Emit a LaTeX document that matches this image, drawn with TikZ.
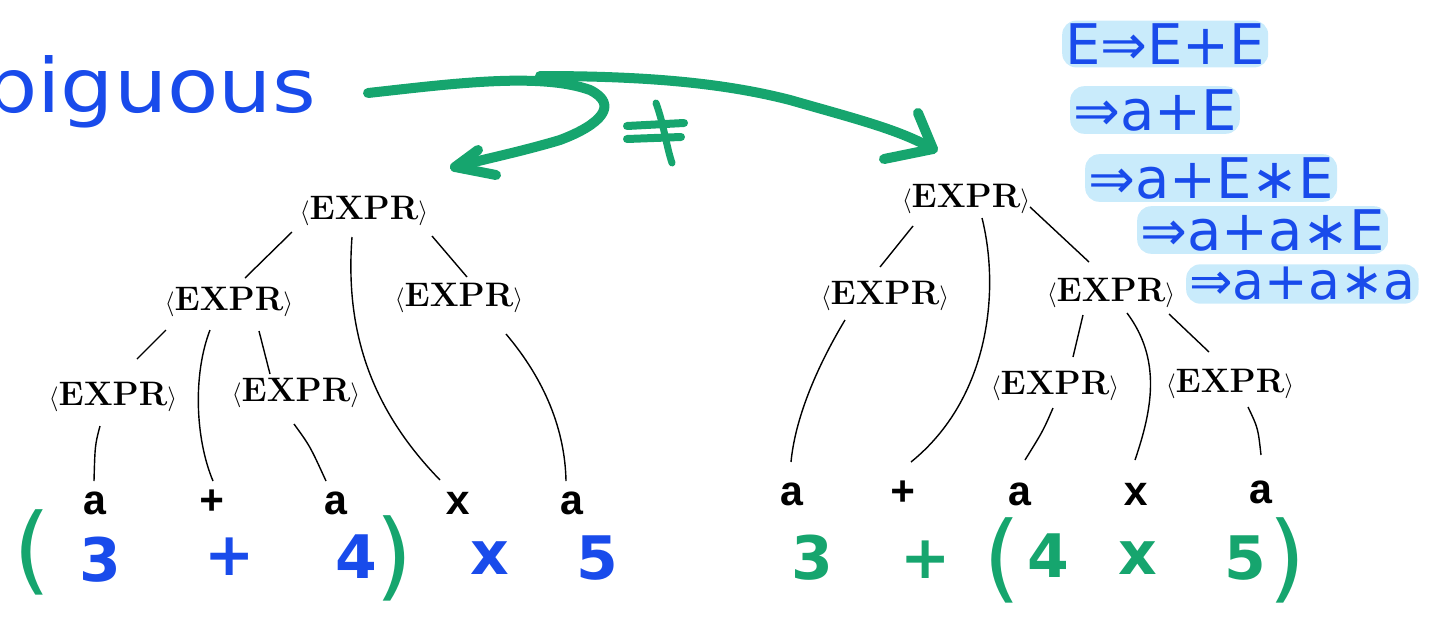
\documentclass[tikz,border=0pt]{standalone}
\usepackage{fontspec}
\newfontfamily\hand{DejaVu Sans}
\newfontfamily\leaffont{Liberation Mono}
\usetikzlibrary{calc}
\definecolor{mgreen}{RGB}{22,165,110}
\definecolor{mblue}{RGB}{25,75,235}
\definecolor{hl}{RGB}{120,205,245}
\begin{document}
\begin{tikzpicture}[x=1pt,y=-1pt,
  nt/.style={font=\bfseries\fontsize{34}{40}\selectfont, inner sep=0pt, text height=24pt, text depth=6pt},
  leaf/.style={font=\leaffont\bfseries\fontsize{42}{48}\selectfont, inner sep=0pt, text height=22pt, text depth=0pt},
  edge/.style={line width=1.4pt, black},
  pen/.style={mgreen, line width=10pt, line cap=round, line join=round},
  bl/.style={text=mblue, font=\hand\bfseries\fontsize{60}{66}\selectfont, inner sep=0pt},
  gr/.style={text=mgreen, font=\hand\bfseries\fontsize{60}{66}\selectfont, inner sep=0pt},
  paren/.style={font=\hand\fontsize{96}{100}\selectfont},
  deriv/.style={text=mblue, font=\hand\fontsize{56}{60}\selectfont, fill=hl, fill opacity=.4, text opacity=1, rounded corners=14pt, inner sep=3pt, anchor=west}
]
\useasboundingbox (0,0) rectangle (1430,619);
\clip (0,0) rectangle (1430,619);

% word
\node[text=mblue, font=\hand\fontsize{75}{80}\selectfont, anchor=base east, inner sep=0pt, xscale=1.12] (amb) at (316,112) {ambiguous};

% derivation
\node[deriv] (d1) at (1062,44) {E⇒E+E};
\node[deriv] (d2) at (1070,110) {⇒a+E};
\node[deriv] (d3) at (1085,178) {⇒a+E∗E};
\node[deriv] (d4) at (1137,230) {⇒a+a∗E};
\node[deriv, font=\hand\fontsize{52}{56}\selectfont] (d5) at (1186,284) {⇒a+a∗a};

% green arrows
\draw[pen] (368,93) .. controls (450,84) and (540,72) .. (590,90)
  .. controls (620,105) and (600,125) .. (560,140)
  .. controls (520,152) and (480,160) .. (455,167);
\draw[pen] (478,150) -- (455,167) -- (496,175);
\draw[pen] (540,76) .. controls (640,76) and (720,82) .. (790,100)
  .. controls (860,120) and (900,130) .. (933,149);
\draw[pen] (918,113) -- (933,149) -- (884,159);
\draw[pen, line width=8pt] (627,126) -- (684,123);
\draw[pen, line width=8pt] (627,139) -- (681,137);
\draw[pen, line width=7pt] (656,103) .. controls (664,125) and (666,145) .. (672,163);

% left tree
\node[nt] (l0) at (364,210) {$\langle$EXPR$\rangle$};
\node[nt] (l1a) at (229,301) {$\langle$EXPR$\rangle$};
\node[nt] (l1b) at (459,297) {$\langle$EXPR$\rangle$};
\node[nt] (l2a) at (113,396) {$\langle$EXPR$\rangle$};
\node[nt] (l2b) at (296,392) {$\langle$EXPR$\rangle$};
\node[leaf, anchor=base] (la1) at (95,514) {a};
\node[leaf, anchor=base] (lp) at (212,514) {+};
\node[leaf, anchor=base] (la2) at (336,514) {a};
\node[leaf, anchor=base] (lx) at (458,514) {x};
\node[leaf, anchor=base] (la3) at (572,514) {a};

\draw[edge] ($(l0)+(-72,22)$) -- ($(l1a)+(16,-23)$);
\draw[edge] ($(l0)+(-12,27)$) .. controls ($(l0)+(-19,120)$) and ($(lx)+(-88,-95)$) .. ($(lx)+(-18,-23)$);
\draw[edge] ($(l0)+(68,26)$) -- ($(l1b)+(8,-20)$);
\draw[edge] ($(l1a)+(-63,29)$) -- ($(l2a)+(24,-37)$);
\draw[edge] ($(l1a)+(-19,29)$) .. controls ($(l1a)+(-36,73)$) and ($(lp)+(-17,-65)$) .. ($(lp)+(1,-22)$);
\draw[edge] ($(l1a)+(30,30)$) -- ($(l2b)+(-26,-18)$);
\draw[edge] ($(l2a)+(-13,30)$) .. controls ($(l2a)+(-18,49)$) .. ($(la1)+(-1,-22)$);
\draw[edge] ($(l2b)+(-2,32)$) .. controls ($(l2b)+(14,54)$) .. ($(la2)+(-10,-22)$);
\draw[edge] ($(l1b)+(47,37)$) .. controls ($(l1b)+(86,83)$) and ($(la3)+(-7,-73)$) .. ($(la3)+(-6,-22)$);

% right tree
\node[nt] (r0) at (966,198) {$\langle$EXPR$\rangle$};
\node[nt] (r1a) at (885,295) {$\langle$EXPR$\rangle$};
\node[nt] (r1b) at (1111,292) {$\langle$EXPR$\rangle$};
\node[nt] (r2a) at (1055,385) {$\langle$EXPR$\rangle$};
\node[nt] (r2b) at (1230,383) {$\langle$EXPR$\rangle$};
\node[leaf, anchor=base] (ra1) at (792,505) {a};
\node[leaf, anchor=base] (rp) at (903,505) {+};
\node[leaf, anchor=base] (ra2) at (1020,505) {a};
\node[leaf, anchor=base] (rx) at (1136,505) {x};
\node[leaf, anchor=base] (ra3) at (1261,503) {a};

\draw[edge] ($(r0)+(-53,28)$) -- ($(r1a)+(-5,-28)$);
\draw[edge] ($(r0)+(16,20)$) .. controls ($(r0)+(34,92)$) and ($(rp)+(87,-96)$) .. ($(rp)+(8,-32)$);
\draw[edge] ($(r0)+(64,9)$) -- ($(r1b)+(-22,-30)$);
\draw[edge] ($(r1a)+(-40,25)$) .. controls ($(r1a)+(-70,75)$) and ($(ra1)+(3,-74)$) .. ($(ra1)+(-1,-32)$);
\draw[edge] ($(r1b)+(-28,23)$) -- ($(r2a)+(18,-28)$);
\draw[edge] ($(r1b)+(16,21)$) .. controls ($(r1b)+(51,68)$) and ($(rx)+(16,-84)$) .. ($(rx)+(-1,-34)$);
\draw[edge] ($(r1b)+(58,22)$) -- ($(r2b)+(-21,-31)$);
\draw[edge] ($(r2a)+(-2,23)$) .. controls ($(r2a)+(-12,46)$) .. ($(ra2)+(5,-34)$);
\draw[edge] ($(r2b)+(18,24)$) .. controls ($(r2b)+(28,45)$) .. ($(ra3)+(0,-37)$);

% evaluations under the left tree
\node[gr, paren] (lpo) at (32,552) {(};
\node[bl] (b3) at (100,560) {3};
\node[bl] (bp) at (230,557) {+};
\node[bl] (b4) at (356,557) {4};
\node[gr, paren] (lpc) at (394,558) {)};
\node[bl] (bx) at (490,558) {x};
\node[bl] (b5) at (597,558) {5};

% evaluations under the right tree
\node[gr] (g3) at (812,558) {3};
\node[gr] (gp) at (926,560) {+};
\node[gr, paren] (rpo) at (1002,560) {(};
\node[gr] (g4) at (1048,556) {4};
\node[gr] (gx) at (1138,558) {x};
\node[gr] (g5) at (1245,558) {5};
\node[gr, paren] (rpc) at (1287,560) {)};
\end{tikzpicture}
\end{document}
